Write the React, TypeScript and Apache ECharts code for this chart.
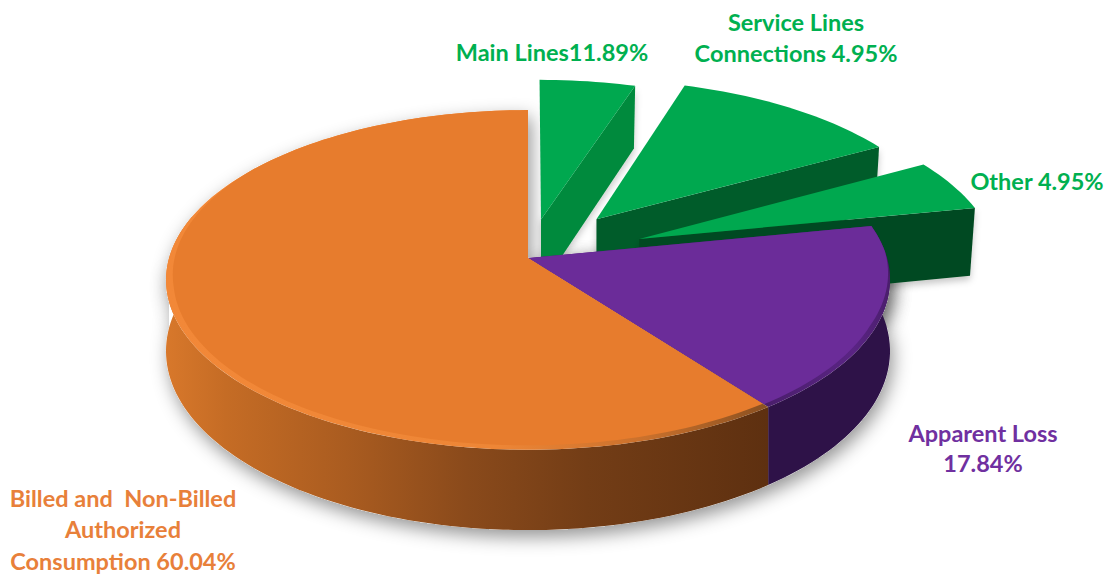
import React, { useEffect, useRef } from "react";
import * as echarts from "echarts";

const categories = [
  "Main Lines",
  "Service Lines Connections",
  "Other",
  "Apparent Loss",
  "Billed and Non-Billed Authorized Consumption",
];
// slice sizes as they are drawn in the picture, clockwise from 12 o'clock
const sliceShares = [4.95, 11.89, 4.95, 17.84, 60.04];
const sliceExplode = [0.24, 0.31, 0.335, 0, 0];
const topColors = ["#00A84F", "#00A84F", "#00A84F", "#6B2C99", "#E77C2D"];
const wallColors = ["#008A3C", "#005C29", "#004A20", "#2E1248", "#7A4018"];
const labelLines = [
  ["Main Lines11.89%"],
  ["Service Lines", "Connections 4.95%"],
  ["Other 4.95%"],
  ["Apparent Loss", "17.84%"],
  ["Billed and  Non-Billed", "Authorized", "Consumption 60.04%"],
];
const labelColors = ["#00B050", "#00B050", "#00B050", "#7030A0", "#E8803A"];
const labelX = [552, 796, 1037, 983, 123];
const labelY = [[52], [22, 53], [181], [433, 463], [498, 529, 561]];

const CX = 528, CY = 258, A = 167, B = 359, K = 0.129, DROP = 70;
const total = sliceShares.reduce((a, b) => a + b, 0);
const starts: number[] = [];
sliceShares.reduce((acc, v, i) => {
  starts[i] = acc;
  return acc + (v / total) * 360;
}, 0);
const rad = (d: number) => (d * Math.PI) / 180;
const clamp01 = (t: number) => Math.max(0, Math.min(1, t));

function project(u: number, v: number, lift = 0): number[] {
  const D = 1 - K * v;
  return [CX + (B * u) / D, CY + (A * v) / D + (lift * DROP) / D];
}
function offset(i: number) {
  const mid = starts[i] + (sliceShares[i] / total) * 180;
  return [Math.sin(rad(mid)) * sliceExplode[i], -Math.cos(rad(mid)) * sliceExplode[i]];
}
function rim(
  a: number,
  b: number,
  o: number[],
  r: number | ((deg: number) => number) = 1,
  lift = 0,
): number[][] {
  const pts: number[][] = [];
  const n = Math.max(2, Math.ceil(Math.abs(b - a) / 1.5));
  for (let j = 0; j <= n; j++) {
    const deg = a + ((b - a) * j) / n;
    const t = rad(deg);
    const rr = typeof r === "function" ? r(deg) : r;
    pts.push(project(o[0] + rr * Math.sin(t), o[1] - rr * Math.cos(t), lift));
  }
  return pts;
}
const hGrad = (x0: number, x1: number, stops: [number, string][]) =>
  new echarts.graphic.LinearGradient(
    x0, 0, x1, 0,
    stops.map(([offset, color]) => ({ offset, color })),
    true,
  );

function renderSlice(params: any, api: any) {
  const i = params.dataIndex;
  const a = starts[i];
  const b = a + (api.value(0) / total) * 360;
  const o = offset(i);
  const children: any[] = [];
  const poly = (points: number[][], style: any) =>
    children.push({ type: "polygon", shape: { points }, style });

  if (i === 0) {
    // soft shadow under the pie body
    const s = starts[3];
    const outline = [
      project(0, 0),
      ...rim(s, 270, [0, 0]),
      ...rim(270, 143, [0, 0], 1, 1),
      ...rim(143, 90, [0, 0], 1, 1),
    ];
    const back = [project(0, 0), ...rim(s, 360, [0, 0])];
    const shadow = {
      fill: "#ffffff",
      shadowBlur: 18,
      shadowOffsetX: 3,
      shadowOffsetY: 7,
      shadowColor: "rgba(0,0,0,0.42)",
    };
    poly(back, shadow);
    poly(outline, shadow);
  }

  if (sliceExplode[i] > 0) {
    // exploded slices show only the cut face that looks at the viewer
    const apex = project(o[0], o[1]);
    const apexLow = project(o[0], o[1], 1);
    const end = rim(b, b, o)[0];
    const endLow = rim(b, b, o, 0.985, 1)[0];
    poly([apex, end, endLow, apexLow], {
      fill: wallColors[i],
      shadowBlur: 7,
      shadowOffsetY: 4,
      shadowColor: "rgba(0,0,0,0.22)",
    });
    poly([apex, ...rim(a, b, o)], { fill: topColors[i] });
  } else {
    const wallEnd = i === 4 ? 285 : b;
    const wallFill =
      i === 4
        ? hGrad(165, 768, [
            [0, "#D8782B"],
            [0.1, "#C56C25"],
            [0.3, "#AA5C20"],
            [0.5, "#8A4A1B"],
            [0.7, "#733D16"],
            [1, "#5E3010"],
          ])
        : wallColors[i];
    poly([...rim(a, wallEnd, o), ...rim(wallEnd, a, o, 1, 1)], { fill: wallFill });
    poly([project(0, 0), ...rim(a, b, o)], {
      fill:
        i === 4
          ? hGrad(165, 768, [
              [0, "#F28838"],
              [0.55, "#EE8636"],
              [0.8, "#C9702C"],
              [1, "#8A5020"],
            ])
          : hGrad(768, 890, [
              [0, "#4A1E6C"],
              [0.7, "#5A2484"],
              [1, "#4A1E6C"],
            ]),
    });
    const inner =
      i === 4
        ? (deg: number) => 1 - 0.02 * clamp01((305 - deg) / 45)
        : (deg: number) => 1 - 0.016 * clamp01((deg - 88) / 25);
    poly([project(0, 0), ...rim(a, b, o, inner)], { fill: topColors[i] });
  }
  return { type: "group", children };
}

export default function App() {
  const ref = useRef<HTMLDivElement>(null);
  useEffect(() => {
    const chart = echarts.init(ref.current!, undefined, { renderer: "svg" });
    const texts: any[] = [];
    labelLines.forEach((lines, i) =>
      lines.forEach((line, j) =>
        texts.push({
          type: "text",
          x: labelX[i],
          y: labelY[i][j],
          silent: true,
          style: {
            text: line,
            fill: labelColors[i],
            font: 'bold 23.5px Lato, "Open Sans", sans-serif',
            textAlign: "center",
            textVerticalAlign: "middle",
          },
        }),
      ),
    );
    chart.setOption({
      animation: false,
      backgroundColor: "#ffffff",
      series: [
        {
          type: "custom",
          name: "Share",
          coordinateSystem: "none",
          silent: true,
          clip: false,
          renderItem: renderSlice,
          data: sliceShares.map((v, i) => ({ name: categories[i], value: [v] })),
        },
      ],
      graphic: { elements: texts },
    });
    return () => chart.dispose();
  }, []);
  return (
    <div
      ref={ref}
      style={{ position: "fixed", left: 0, top: 0, width: 1112, height: 578 }}
    />
  );
}
